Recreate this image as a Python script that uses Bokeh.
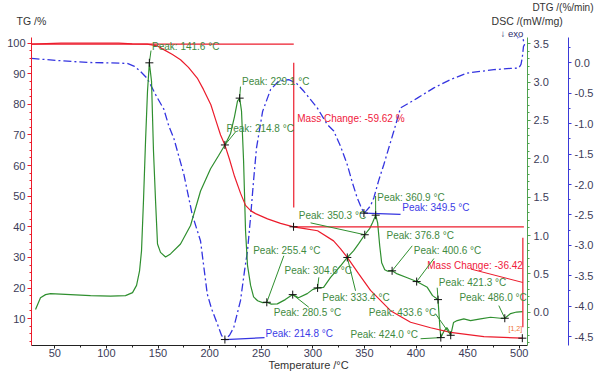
from bokeh.plotting import figure
from bokeh.models import (Range1d, LinearAxis, SingleIntervalTicker, PrintfTickFormatter, Title,
                          FixedTicker)
from bokeh.core.properties import value
from bokeh.embed import file_html
from bokeh.resources import INLINE

# ---------------- data ----------------
tg_T = [27.4, 56, 112, 125, 139.5, 149.5, 155.6, 164.0, 171.8, 179.5, 188.0, 194.0, 201.2, 205.7,
        210.6, 214.8, 219.3, 224.1, 229.9, 234.8, 240.0, 244.5, 256.1, 268.7, 281.3, 292.0, 304.6,
        320.1, 326.9, 333.4, 344.3, 355.9, 375.3, 394.7, 414.1, 433.4, 465.7, 503.0]
tg_v = [99.7, 100.0, 100.0, 99.8, 99.7, 99.1, 97.9, 96.3, 94.6, 92.1, 88.6, 84.9, 79.9, 75.1,
        70.0, 66.7, 62.0, 56.5, 51.0, 47.0, 45.2, 44.3, 42.6, 41.1, 40.0, 39.4, 38.7,
        35.4, 32.8, 30.0, 24.7, 19.2, 12.6, 8.8, 7.0, 5.5, 4.1, 3.6]

dsc_T = [31.3, 36.1, 41.0, 45.8, 65.2, 84.6, 104.0, 118.5, 125.3, 129.2, 132.1, 134.0, 135.9, 137.9,
         139.8, 141.6, 143.7, 145.6, 147.6, 149.5, 152.4, 157.3, 162.1, 171.8, 181.5, 191.2, 200.9,
         208.6, 214.8, 220.3, 224.1, 227.0, 229.1, 230.9, 232.9, 234.8, 236.7, 239.7, 242.6, 246.5,
         251.3, 255.4, 259.8, 265.6, 273.3, 280.5, 286.1, 294.6, 299.7, 304.6, 310.4, 317.2, 326.9,
         333.4, 339.4, 344.3, 350.3, 355.0, 357.8, 360.9, 362.8, 364.8, 366.7, 369.7, 372.6, 376.8,
         381.8, 391.5, 400.6, 410.9, 416.0, 421.3, 422.0, 423.0, 424.0, 426.9, 429.8, 431.7, 433.6,
         436.3, 439.9, 446.3, 452.8, 462.5, 472.2, 481.9, 486.0, 491.6, 497.4, 503.2]
dsc_v = [0.035, 0.19, 0.23, 0.243, 0.23, 0.217, 0.21, 0.217, 0.256, 0.35, 0.54, 0.80, 1.45, 2.23,
         2.88, 3.25, 3.01, 2.10, 1.45, 0.89, 0.78, 0.72, 0.76, 0.89, 1.13, 1.58, 1.87,
         2.04, 2.18, 2.33, 2.55, 2.75, 2.79, 2.62, 1.97, 1.06, 0.61, 0.35, 0.20, 0.15,
         0.126, 0.13, 0.106, 0.109, 0.165, 0.23, 0.19, 0.243, 0.295, 0.317, 0.325, 0.455, 0.606,
         0.714, 0.80, 0.89, 1.01, 1.09, 1.165, 1.265, 1.165, 0.866, 0.645, 0.555, 0.535, 0.54,
         0.50, 0.45, 0.40, 0.325, 0.217, 0.165, 0.022, -0.173, -0.33, -0.25, -0.20, -0.24, -0.30,
         -0.134, -0.108, -0.086, -0.108, -0.086, -0.065, -0.078, -0.078, -0.017, 0.003, 0.009]

dtg_T = [27.4, 55.5, 81.4, 104.0, 120.2, 127.2, 133.0, 139.5, 142.7, 148.5, 155.6, 160.5, 165.3,
         175.0, 183.1, 191.2, 197.7, 201.8, 207.4, 211.5, 214.8, 219.3, 223.4, 229.9, 233.8, 236.7,
         239.6, 242.5, 245.4, 251.3, 259.0, 266.8, 276.7, 284.2, 291.3, 304.3, 313.9, 320.3, 326.8,
         333.3, 338.5, 343.0, 346.2, 349.5, 352.0, 355.9, 359.1, 363.7, 368.8, 378.5, 385.0, 401.2,
         417.3, 433.4, 449.6, 475.4, 491.6, 499.6, 501.7, 502.9, 504.1, 505.1, 503.6, 501.2, 498.0]
dtg_v = [0.074, 0.036, 0.008, 0.0, -0.008, -0.057, -0.14, -0.254, -0.357, -0.55, -0.76, -1.04, -1.24,
         -1.83, -2.49, -2.93, -3.80, -4.04, -4.29, -4.48, -4.55, -4.48, -4.35, -3.91, -3.42, -3.09,
         -2.55, -1.95, -1.40, -0.80, -0.44, -0.30, -0.275, -0.336, -0.467, -0.74, -1.01, -1.12, -1.37,
         -1.67, -1.98, -2.22, -2.35, -2.47, -2.43, -2.35, -2.22, -1.94, -1.67, -1.12, -0.74, -0.58,
         -0.41, -0.275, -0.167, -0.111, -0.09, -0.085, -0.025, 0.079, 0.27, 0.30, 0.40, 0.434, 0.41]

dsc_peak_T = [141.6, 214.8, 229.1, 255.4, 280.5, 304.6, 333.4, 350.3, 360.9, 376.8, 400.6, 421.3,
              424.0, 433.6, 486.0]
dsc_peak_v = [3.25, 2.18, 2.79, 0.13, 0.23, 0.317, 0.714, 1.01, 1.265, 0.54, 0.40, 0.165,
              -0.33, -0.30, -0.078]
dtg_peak_T = [214.8, 349.5]
dtg_peak_v = [-4.55, -2.47]

mc_change = [-59.62, -36.42]
mc_T = [281.5, 503.5]
mc_level = [99.7, 40.0]
tg_mark_T = [281.3, 503.0]
tg_mark_v = [40.0, 3.6]

# ---------------- layout of annotations (positions, not data) ----------------
dsc_lab_T = [144.2, 216.4, 231.4, 242.2, 262.2, 272.6, 309.1, 286.4, 362.4, 371.4, 397.9, 422.1,
             336.5, 354.3, 442.0]
dsc_lab_v = [3.46, 2.40, 3.01, 0.80, 0.0, 0.55, 0.195, 1.256, 1.49, 1.0, 0.80, 0.39,
             -0.29, 0.0, 0.195]
dsc_lead_T = [143.2, 225.1, 229.9, 271.9, 296.1, 305.8, 341.4, 297.8, 360.8, 396.3, 417.3, 420.5,
              404.4, 418.9, 480.2]
dsc_lead_v = [3.41, 2.35, 2.94, 0.736, 0.065, 0.455, 0.28, 1.165, 1.516, 0.866, 0.70, 0.32,
              -0.345, -0.02, 0.087]
dtg_lab_T = [254.2, 386.6]
dtg_lab_v = [-4.456, -2.385]
dtg_lead_T = [253.2, 385.0]
dtg_lead_v = [-4.52, -2.49]
head_pos = [31.0, 526.7]          # horizontal centres of the two heading texts (pixels)
head_text = ["TG /%", "DSC /(mW/mg)"]

RED = "#ec1c2c"
GREEN = "#2f8f2f"
GREEN_AX = "#4ea24e"
BLUE = "#3434e0"
BLUE_AX = "#3a3ad8"
TICK_TXT = "#3c3c58"
FONT = "Liberation Sans"

p = figure(width=600, height=374, x_range=Range1d(27.4, 508.0), y_range=Range1d(1.21, 101.86),
           output_backend="svg", toolbar_location=None,
           min_border_left=31, min_border_right=73, min_border_top=36, min_border_bottom=29)
p.extra_y_ranges = {"dsc": Range1d(-0.433, 3.58), "dtg": Range1d(-4.648, 0.418)}
p.extra_x_ranges = {"head": Range1d(31, 527)}
p.grid.visible = False
p.outline_line_color = None
p.background_fill_color = "white"
p.border_fill_color = "white"


def style_axis(ax, color, font_size="11px", tick_out=3, minor_out=2, standoff=1):
    ax.axis_line_color = color
    ax.major_tick_line_color = color
    ax.minor_tick_line_color = color
    ax.major_tick_out = tick_out
    ax.major_tick_in = 0
    ax.minor_tick_out = minor_out
    ax.minor_tick_in = 0
    ax.major_label_standoff = standoff
    ax.major_label_text_font = FONT
    ax.major_label_text_font_size = font_size
    ax.major_label_text_color = TICK_TXT


xa = p.xaxis[0]
xa.ticker = SingleIntervalTicker(interval=50, num_minor_ticks=2)
style_axis(xa, "#222222", font_size="11px", tick_out=3, minor_out=2, standoff=0)

ya = p.yaxis[0]
ya.ticker = SingleIntervalTicker(interval=10, num_minor_ticks=4)
style_axis(ya, RED, tick_out=4, minor_out=2, standoff=2)

dsc_ax = LinearAxis(y_range_name="dsc", ticker=SingleIntervalTicker(interval=0.5, num_minor_ticks=5),
                    formatter=PrintfTickFormatter(format="%.1f"))
style_axis(dsc_ax, GREEN_AX, tick_out=3, minor_out=2, standoff=3)
dsc_ax.axis_label = " "
dsc_ax.axis_label_text_font_size = "10px"
dsc_ax.axis_label_standoff = 3
p.add_layout(dsc_ax, "right")

dtg_ax = LinearAxis(y_range_name="dtg", ticker=SingleIntervalTicker(interval=0.5, num_minor_ticks=2),
                    formatter=PrintfTickFormatter(format="%.1f"))
style_axis(dtg_ax, BLUE_AX, tick_out=3, minor_out=2, standoff=3)
p.add_layout(dtg_ax, "right")

# ---------------- curves ----------------
p.line(dtg_T, dtg_v, y_range_name="dtg", line_color=BLUE, line_width=1.3, line_dash="8 3 2 3")
p.line(dsc_T, dsc_v, y_range_name="dsc", line_color=GREEN, line_width=1.2)
p.line(tg_T, tg_v, line_color=RED, line_width=1.2)

# mass change constructions
p.segment(x0=[27.4, mc_T[0]], y0=mc_level, x1=[mc_T[0], 504.5], y1=mc_level, line_color=RED, line_width=1.2)
p.segment(x0=mc_T, y0=[93.6, 36.4], x1=mc_T, y1=[46.3, 7.2], line_color=RED, line_width=1.2)
p.segment(x0=[453.0], y0=[26.2], x1=[mc_T[1]], y1=[21.8], line_color=RED, line_width=1)
p.text(x=[284.9, 410.9], y=[75.4, 27.4],
       text=["Mass Change: %.2f %%" % mc_change[0], "Mass Change: %.2f" % mc_change[1]],
       text_font=value(FONT), text_font_size=value("10px"), text_color="#f0203c",
       text_baseline="middle", text_align="left")
p.text(x=[489.6], y=[6.8], text=["[1,2]"], text_font=value(FONT), text_font_size=value("7px"),
       text_color="#f07030", text_baseline="middle", text_align="left")

# leader lines and labels
p.segment(x0=dsc_peak_T, y0=dsc_peak_v, x1=dsc_lead_T, y1=dsc_lead_v, y_range_name="dsc",
          line_color=GREEN, line_width=1)
p.segment(x0=dtg_peak_T, y0=dtg_peak_v, x1=dtg_lead_T, y1=dtg_lead_v, y_range_name="dtg",
          line_color=BLUE, line_width=1.2)
p.text(x=dsc_lab_T, y=dsc_lab_v, text=["Peak: %.1f °C" % t for t in dsc_peak_T], y_range_name="dsc",
       text_font=value(FONT), text_font_size=value("10px"), text_color="#3f8a3f",
       text_baseline="middle", text_align="left")
p.text(x=dtg_lab_T, y=dtg_lab_v, text=["Peak: %.1f °C" % t for t in dtg_peak_T], y_range_name="dtg",
       text_font=value(FONT), text_font_size=value("10px"), text_color="#3c3ce6",
       text_baseline="middle", text_align="left")

# peak markers
p.scatter(dsc_peak_T, dsc_peak_v, y_range_name="dsc", marker="cross", size=8, line_color="#111111", line_width=1)
p.scatter(dtg_peak_T, dtg_peak_v, y_range_name="dtg", marker="cross", size=8, line_color="#111111", line_width=1)
p.scatter(tg_mark_T, tg_mark_v, marker="cross", size=8, line_color="#111111", line_width=1)


# ---------------- headings outside the frame ----------------
def make_title(text, size, color, align, offset, valign="bottom", standoff=-2):
    return Title(text=text, align=align, offset=offset, standoff=standoff, vertical_align=valign,
                 text_font=FONT, text_font_size=size, text_font_style="normal", text_color=color)


# row nearest the frame: "↓ exo"
p.add_layout(make_title("↓ exo", "9.5px", "#2a2a6a", "left", 469), "above")
# second row: TG and DSC headings, drawn as labels of a bare axis
head_ax = LinearAxis(x_range_name="head", ticker=FixedTicker(ticks=head_pos, minor_ticks=[]),
                     major_label_overrides={head_pos[0]: head_text[0], head_pos[1]: head_text[1]})
head_ax.axis_line_color = None
head_ax.major_tick_line_color = None
head_ax.minor_tick_line_color = None
head_ax.major_tick_out = 0
head_ax.major_tick_in = 0
head_ax.minor_tick_out = 0
head_ax.minor_tick_in = 0
head_ax.major_label_standoff = 0
head_ax.major_label_text_font = FONT
head_ax.major_label_text_font_size = "10.5px"
head_ax.major_label_text_color = "#333333"
p.add_layout(head_ax, "above")
# outer row: DTG heading
p.add_layout(make_title("DTG /(%/min)", "10px", "#333333", "right", -66), "above")
# bottom axis title
p.add_layout(make_title("Temperature /°C", "11px", "#333333", "left", 237, valign="top", standoff=-1), "below")

open("out.html", "w").write(file_html(p, INLINE))
